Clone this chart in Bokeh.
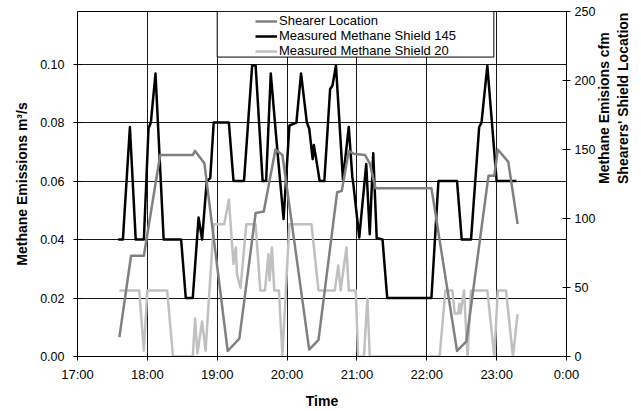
import math

from bokeh.plotting import figure
from bokeh.models import (LinearAxis, Range1d, FixedTicker, Legend, LegendItem,
                          BoxAnnotation, ColumnDataSource)
from bokeh.embed import file_html
from bokeh.resources import INLINE

# ---- readings -------------------------------------------------------------
shearer_times = ["17:36", "17:46", "17:57", "18:11", "18:39", "18:41", "18:49", "19:09",
                 "19:19", "19:33", "19:40", "19:50", "19:56", "20:19", "20:27", "20:43",
                 "20:47", "20:53", "20:57", "21:07", "21:11", "21:16", "22:04", "22:26",
                 "22:34", "22:53", "22:58", "23:01", "23:10", "23:18"]
shearer_shield = [14, 73, 73, 146, 146, 149, 140, 4, 13, 104, 105, 150, 146, 5, 12, 119,
                  120, 149, 147, 146, 140, 122, 122, 4, 11, 131, 131, 150, 141, 96]

shield145_times = ["17:35", "17:39", "17:45", "17:50", "17:57", "18:01", "18:03", "18:07",
                   "18:14", "18:29", "18:33", "18:39", "18:44", "18:47", "18:51", "18:54",
                   "18:57", "19:10", "19:14", "19:23", "19:30", "19:33", "19:39", "19:42",
                   "19:46", "19:51", "19:57", "20:02", "20:08", "20:12", "20:17", "20:19",
                   "20:22", "20:23", "20:25", "20:28", "20:32", "20:37", "20:39", "20:42",
                   "20:48", "20:53", "20:56", "20:57", "21:02", "21:08", "21:11", "21:14",
                   "21:17", "21:22", "21:26", "22:04", "22:10", "22:26", "22:30", "22:38",
                   "22:45", "22:47", "22:52", "23:00", "23:17"]
shield145_m3s = [0.040, 0.040, 0.0785, 0.040, 0.040, 0.078, 0.080, 0.0968, 0.040, 0.040,
                 0.020, 0.020, 0.0475, 0.040, 0.060, 0.061, 0.080, 0.080, 0.060, 0.060,
                 0.0995, 0.0995, 0.060, 0.060, 0.0968, 0.0735, 0.047, 0.079, 0.080, 0.0968,
                 0.080, 0.078, 0.0675, 0.0723, 0.0675, 0.060, 0.060, 0.0915, 0.0927, 0.0995,
                 0.0605, 0.0785, 0.0616, 0.0587, 0.0407, 0.0658, 0.0418, 0.0695, 0.0405,
                 0.040, 0.020, 0.020, 0.060, 0.060, 0.040, 0.040, 0.0785, 0.080, 0.0995,
                 0.060, 0.060]

shield20_times = ["17:36", "17:53", "17:57", "18:00", "18:17", "18:22", "18:39", "18:41",
                  "18:43", "18:47", "18:50", "18:57", "19:06", "19:10", "19:14", "19:16",
                  "19:17", "19:20", "19:25", "19:33", "19:37", "19:41", "19:44", "19:45",
                  "19:47", "19:49", "19:53", "19:56", "20:02", "20:21", "20:27", "20:41",
                  "20:44", "20:46", "20:51", "20:53", "20:59", "21:01", "21:06", "21:09",
                  "21:11", "22:11", "22:16", "22:22", "22:24", "22:27", "22:28", "22:29",
                  "22:32", "22:35", "22:38", "22:52", "22:58", "23:01", "23:08", "23:14",
                  "23:18"]
shield20_m3s = [0.0226, 0.0226, 0.002, 0.0226, 0.0226, 0.0, 0.0, 0.013, 0.001, 0.012,
                0.002, 0.0452, 0.0452, 0.0537, 0.0316, 0.0373, 0.028, 0.0235, 0.0452,
                0.0452, 0.0226, 0.0226, 0.035, 0.026, 0.0373, 0.0226, 0.0226, 0.0005,
                0.0452, 0.0452, 0.0226, 0.0226, 0.0311, 0.0226, 0.0373, 0.0226, 0.0226,
                0.0, 0.0, 0.0198, 0.0, 0.0, 0.0226, 0.0226, 0.0147, 0.0147, 0.018, 0.0147,
                0.0226, 0.0, 0.0226, 0.0226, 0.0, 0.0226, 0.0226, 0.0, 0.0145]

hour_ticks = [17, 18, 19, 20, 21, 22, 23, 24]
hour_labels = ["17:00", "18:00", "19:00", "20:00", "21:00", "22:00", "23:00", "0:00"]
m3s_ticks = [0.00, 0.02, 0.04, 0.06, 0.08, 0.10]
right_ticks = [0, 50, 100, 150, 200, 250]
right_titles = ["Methane Emisions cfm", "Shearers' Shield Location"]

M3S_PER_CFM = 0.000471947


def to_hours(stamps):
    out = []
    for s in stamps:
        h, m = s.split(":")
        out.append(int(h) + int(m) / 60.0)
    return out


FONT = "Liberation Sans"

p = figure(width=641, height=411, output_backend="svg", toolbar_location=None,
           x_range=Range1d(17, 24), y_range=Range1d(0, 250 * M3S_PER_CFM),
           min_border_left=77, min_border_right=74, min_border_top=11,
           min_border_bottom=51)
p.background_fill_color = "white"
p.border_fill_color = "white"
p.outline_line_color = "black"
p.outline_line_width = 1
p.extra_y_ranges = {"right": Range1d(0, 250)}

# grid
p.xgrid.ticker = FixedTicker(ticks=hour_ticks[1:-1])
p.ygrid.ticker = FixedTicker(ticks=m3s_ticks[1:])
for g in (p.xgrid, p.ygrid):
    g.grid_line_color = "black"
    g.grid_line_width = 1
    g.grid_line_alpha = 0.9

# axes
p.xaxis.ticker = FixedTicker(ticks=hour_ticks)
p.xaxis.major_label_overrides = dict(zip(hour_ticks, hour_labels))
p.xaxis.axis_label = "Time"
p.yaxis.ticker = FixedTicker(ticks=m3s_ticks)
p.yaxis.major_label_overrides = {t: f"{t:.2f}" for t in m3s_ticks}
p.yaxis.axis_label = "Methane Emissions m³/s"

right = LinearAxis(y_range_name="right", ticker=FixedTicker(ticks=right_ticks))
p.add_layout(right, "right")

for ax in (p.xaxis[0], p.yaxis[0], right):
    ax.axis_line_color = "black"
    ax.major_tick_line_color = "black"
    ax.major_tick_in = 4
    ax.major_tick_out = 4
    ax.minor_tick_line_color = None
    ax.major_label_text_font = FONT
    ax.major_label_text_font_size = "13px"
    ax.major_label_text_color = "black"
    ax.axis_label_text_font = FONT
    ax.axis_label_text_font_size = "14px"
    ax.axis_label_text_font_style = "bold"
    ax.axis_label_text_color = "black"
p.xaxis.major_label_standoff = 6
p.xaxis.axis_label_standoff = 8
p.yaxis.major_label_text_font_size = "12.5px"
p.yaxis.major_label_standoff = 9
p.yaxis.axis_label_standoff = 7
right.major_label_standoff = 4

# the right-hand title is two lines, each carried by a bare tick-less axis
for title, standoff in zip(right_titles, (5, 0)):
    t_ax = LinearAxis(y_range_name="right", ticker=FixedTicker(ticks=[]),
                      axis_label=title, axis_label_standoff=standoff,
                      axis_line_color=None, major_tick_line_color=None,
                      minor_tick_line_color=None, major_tick_in=0, major_tick_out=0,
                      axis_label_text_font=FONT, axis_label_text_font_size="14px",
                      axis_label_text_font_style="bold", axis_label_text_color="black")
    if "axis_label_orientation" in t_ax.properties():
        t_ax.axis_label_orientation = math.pi / 2
    p.add_layout(t_ax, "right")

# series
src_145 = ColumnDataSource(dict(t=to_hours(shield145_times), v=shield145_m3s))
src_20 = ColumnDataSource(dict(t=to_hours(shield20_times), v=shield20_m3s))
src_sh = ColumnDataSource(dict(t=to_hours(shearer_times), v=shearer_shield))

r145 = p.line("t", "v", source=src_145, line_color="black", line_width=2.5,
              line_join="round")
r20 = p.line("t", "v", source=src_20, line_color="#c0c0c0", line_width=2.5,
             line_join="round")
rsh = p.line("t", "v", source=src_sh, y_range_name="right", line_color="#808080",
             line_width=2.5, line_join="round")

# legend box and entries
box = BoxAnnotation(left=19.0, right=22.96, bottom=0.1024, top=None,
                    fill_color="white", fill_alpha=1.0,
                    line_color="black", line_alpha=1.0, line_width=1)
p.add_layout(box)

legend = Legend(items=[LegendItem(label="Shearer Location", renderers=[rsh]),
                       LegendItem(label="Measured Methane Shield 145", renderers=[r145]),
                       LegendItem(label="Measured Methane Shield 20", renderers=[r20])],
                location=(178, 298), padding=0, margin=0, spacing=0,
                glyph_width=22, glyph_height=14, label_height=14, label_standoff=2,
                label_text_font=FONT, label_text_font_size="13px",
                label_text_color="black", background_fill_alpha=0,
                border_line_alpha=0)
p.add_layout(legend)

open("out.html", "w").write(file_html(p, INLINE))
